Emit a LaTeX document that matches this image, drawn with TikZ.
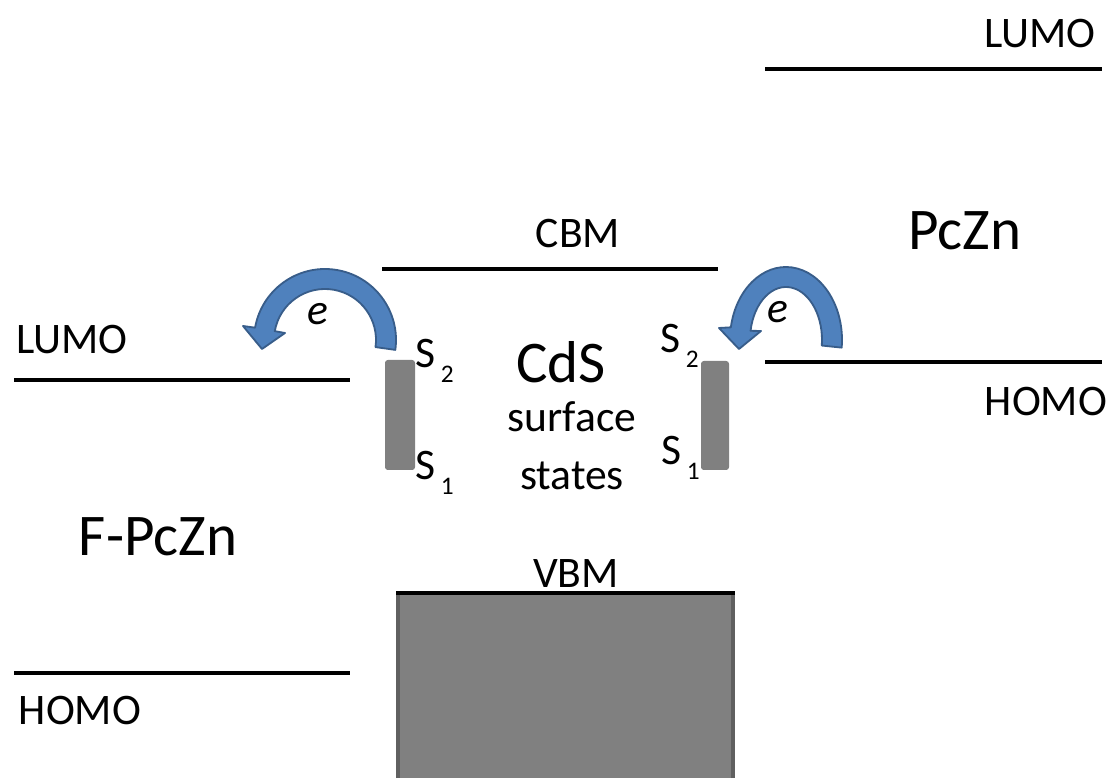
\documentclass[tikz,border=0pt]{standalone}
\usepackage{fontspec}
\setmainfont{Carlito}

\newcommand{\txtsz}{\fontsize{31}{37}\selectfont}
\newcommand{\bigsz}{\fontsize{42}{50}\selectfont}
\newcommand{\subsz}{\fontsize{18}{22}\selectfont}
\newcommand{\surf}[1]{S\kern4pt\raisebox{-10pt}{\subsz #1}}

\definecolor{arrowblue}{RGB}{79,129,189}
\definecolor{arrowedge}{RGB}{56,93,138}
\definecolor{bandgray}{RGB}{128,128,128}
\definecolor{edgegray}{RGB}{96,96,96}

\tikzset{
level/.style={line width=2.9pt},
lbl/.style={font=\txtsz,anchor=base,inner sep=0pt},
biglbl/.style={font=\bigsz,anchor=base,inner sep=0pt},
slbl/.style={font=\txtsz,anchor=base west,inner sep=0pt},
earrow/.style={fill=arrowblue,draw=arrowedge,line width=1.3pt,line join=round},
sbar/.style={fill=bandgray,rounded corners=2pt}
}

\begin{document}
\begin{tikzpicture}[x=0.025cm,y=0.025cm]
\useasboundingbox (0,0) rectangle (1114,778);

% PcZn
\draw[level] (765,709) -- (1102,709);
\draw[level] (765,416) -- (1102,416);
\node[lbl] (lumoR) at (1040,730) {LUMO};
\node[biglbl] (pczn) at (965,528) {PcZn};
\node[lbl] (homoR) at (1046,362) {HOMO};

% F-PcZn
\draw[level] (14,398) -- (350,398);
\draw[level] (14,105) -- (350,105);
\node[lbl] (lumoL) at (72,424) {LUMO};
\node[biglbl] (fpczn) at (158,222) {F-PcZn};
\node[lbl] (homoL) at (80,53) {HOMO};

% CdS
\draw[level] (382,509) -- (718,509);
\node[lbl] (cbm) at (578,530) {CBM};
\node[biglbl] (cds) at (561,395) {CdS};
\node[lbl] (surface) at (572,346) {surface};
\node[lbl] (states) at (572,288) {states};

% VBM
\fill[bandgray] (396,0) rectangle (735,185);
\draw[edgegray,line width=3pt] (398,0) -- (398,185);
\draw[edgegray,line width=3pt] (733,0) -- (733,185);
\draw[line width=3.2pt] (396,185) -- (735,185);
\node[lbl] (vbm) at (576,190) {VBM};

% surface states
\fill[sbar] (385,308) rectangle (415,418);
\fill[sbar] (701,308) rectangle (729,417);
\node[slbl] (s2L) at (415,410) {\surf{2}};
\node[slbl] (s1L) at (415,298) {\surf{1}};
\node[slbl] (s2R) at (660,425) {\surf{2}};
\node[slbl] (s1R) at (661,313) {\surf{1}};

% electron transfer
\begin{scope}[shift={(325,438)}]
\filldraw[earrow] (-8:71) arc[start angle=-8,end angle=170,radius=71]
  -- (-82,14) -- (-63,-9) -- (-40,7)
  -- (170:51) arc[start angle=170,end angle=-8,radius=51] -- cycle;
\end{scope}
\begin{scope}[shift={(786,438)}]
\filldraw[earrow] (-6:56 and 73) arc[start angle=-6,end angle=170,x radius=56,y radius=73]
  -- (-67,12) -- (-47,-9) -- (-25,9)
  -- (170:36 and 53) arc[start angle=170,end angle=-6,x radius=36,y radius=53] -- cycle;
\end{scope}
\node[lbl,font=\txtsz\itshape] (eL) at (318,453) {e};
\node[lbl,font=\txtsz\itshape] (eR) at (778,455) {e};

\end{tikzpicture}
\end{document}
